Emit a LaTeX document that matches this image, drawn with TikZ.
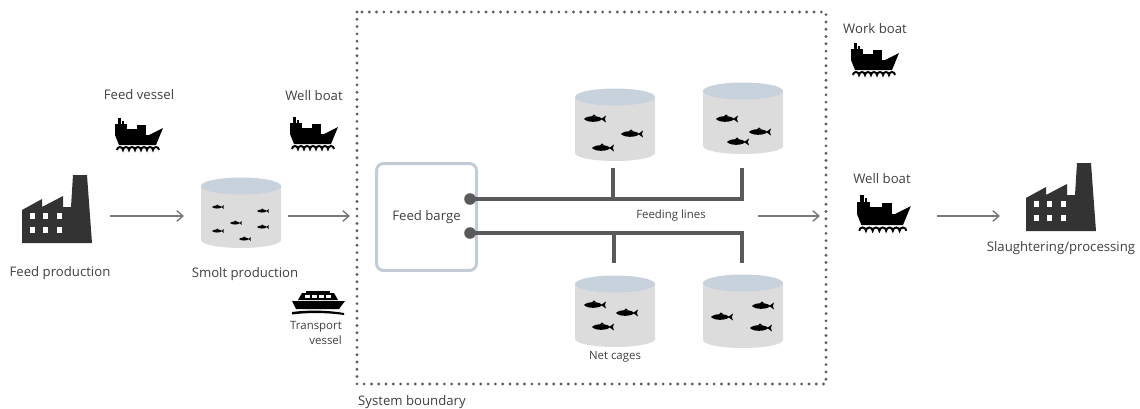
\documentclass[tikz,border=0pt]{standalone}
\usepackage{fontspec}
\setmainfont{Open Sans}
\usetikzlibrary{positioning,arrows.meta}
\definecolor{ink}{HTML}{333333}
\definecolor{txt}{HTML}{404040}
\definecolor{tankside}{HTML}{DCDCDC}
\definecolor{tanktop}{HTML}{C8D2DC}
\definecolor{pipe}{HTML}{5A5A5A}
\definecolor{bargeline}{HTML}{C3CCD6}
\definecolor{flowline}{HTML}{7A7A7A}
\definecolor{dots}{HTML}{5E5E5E}

\tikzset{
  fish/.pic={
    \fill[black] (-1,0) .. controls (-0.7,-0.34) and (0.3,-0.32) .. (0.62,-0.05)
      -- (1,-0.32) -- (0.9,0) -- (1,0.32) -- (0.62,0.05)
      .. controls (0.3,0.32) and (-0.7,0.34) .. (-1,0) -- cycle;
    \fill[black] (-0.3,-0.2) -- (-0.1,-0.42) -- (0.15,-0.22) -- cycle;
  },
  tank/.pic={
    \fill[tankside] (-40,0) -- (-40,#1) arc[start angle=180,end angle=0,x radius=40,y radius=8] -- (40,0) -- cycle;
    \fill[tanktop] (0,0) ellipse[x radius=40,y radius=8.5];
  },
  ship/.pic={
    \fill (3,0) rectangle (6,8);
    \fill (7,3) rectangle (9,8);
    \fill (0,6) rectangle (12,17);
    \fill (12,11) rectangle (23,17);
    \fill (22,7) rectangle (31,17);
    \fill (0,17) -- (34,17) -- (48,10) -- (41,27) -- (4,27) -- cycle;
    \draw[line width=1.1pt] (2,32) \foreach \i in {1,...,7}{arc[start angle=180,end angle=360,radius=3]};
  },
  ferry/.pic={
    \fill (14,0) rectangle (38,2);
    \fill (10,2) -- (42,2) -- (46,9) -- (6,9) -- cycle;
    \foreach \wx in {13,20,27,34}{\fill[white] (\wx,4) rectangle ++(5,3);}
    \fill (0,10) -- (53,10) -- (47,18) -- (4,18) -- cycle;
    \fill (0,21) .. controls (15,19) and (35,19) .. (52,22) -- (52,24) .. controls (35,21.5) and (15,21.5) .. (0,23.5) -- cycle;
  },
  factory/.pic={
    \fill[ink] (0,0) -- (0,-33) -- (20,-44) -- (20,-36) -- (41,-47) -- (41,-36) -- (49,-36)
      -- (51,-68) -- (65,-68) -- (70,0) -- cycle;
    \foreach \wx in {8,21,35}{
      \foreach \wy in {-30,-16}{\fill[white] (\wx,\wy) rectangle ++(5,6);}
    }
  }
}

\begin{document}
\begin{tikzpicture}[x=0.02cm, y=-0.02cm, font=\fontsize{7.5}{9}\selectfont, text=txt,
  small/.style={font=\fontsize{6.5}{8.5}\selectfont},
  flow/.style={draw=flowline, line width=0.8pt, -{Straight Barb[length=3.5pt,width=6pt]}},
  feedline/.style={draw=pipe, line width=1.9pt},
  pipedot/.style={circle, fill=pipe, inner sep=0pt, minimum size=6.6pt},
  barge/.style={draw=bargeline, line width=1.7pt, rounded corners=4pt, minimum width=2cm, minimum height=2.14cm},
  boundary/.style={draw=dots, line width=1.8pt, line cap=round, dash pattern=on 0pt off 4.15pt}]
\useasboundingbox (0,0) rectangle (1140,409);

% system boundary
\draw[boundary] (357,12) rectangle (826,384);
\node[anchor=west] (sysb) at (352,402) {System boundary};

% feed production
\pic at (22,243) {factory};
\node (feedprod) at (60,273) {Feed production};
\coordinate (a1s) at (110,216);
\coordinate (a1e) at (184,216);
\draw[flow] (a1s) -- (a1e);

% feed vessel
\node (feedves) at (139,95) {Feed vessel};
\pic at (115,118) {ship};

% smolt production
\pic at (241,186) {tank=54};
\foreach \fx/\fy in {-23/21, 22/25, -5/37, -23/45, 22/41, 4/53}{
  \pic[scale=6] at (241+\fx,186+\fy) {fish};
}
\node (smolt) at (245,274) {Smolt production};
\node (wellboatA) at (314,96) {Well boat};
\pic at (290,117) {ship};
\pic at (292,291) {ferry};
\node[small, align=right, anchor=east] (transp) at (348,333) {Transport\\vessel};
\coordinate (a2s) at (288,216);
\coordinate (a2e) at (350,216);
\draw[flow] (a2s) -- (a2e);

% feed barge and feeding lines
\node[barge] (fbarge) at (426.5,217) {Feed barge};
\node[pipedot] (dotA) at (470,199) {};
\node[pipedot] (dotB) at (470,233) {};
\coordinate (jA1) at (613,199);
\coordinate (jA2) at (742,199);
\coordinate (tA1) at (613,168);
\coordinate (tA2) at (742,168);
\coordinate (jB1) at (614,233);
\coordinate (jB2) at (742,233);
\coordinate (tB1) at (614,263);
\coordinate (tB2) at (742,263);
\draw[feedline] (dotA.center) -- (jA2) -- (tA2);
\draw[feedline] (jA1) -- (tA1);
\draw[feedline] (dotB.center) -- (jB2) -- (tB2);
\draw[feedline] (jB1) -- (tB1);
\node[small] (feedlines) at (671,216) {Feeding lines};

% net cages
\pic at (615,97) {tank=56};
\pic at (743,91) {tank=55};
\pic at (615,284) {tank=55};
\pic at (743,283) {tank=57};
\foreach \cx/\cy/\fx/\fy in {615/97/-20/22, 615/97/17/37, 615/97/-12/51,
                             743/91/-16/28, 743/91/17/41, 743/91/-5/51,
                             615/284/-20/21, 615/284/12/29, 615/284/-12/43,
                             743/284/-21/33, 743/284/20/22, 743/284/18/44}{
  \pic[scale=11] at (\cx+\fx,\cy+\fy) {fish};
}
\node[small] (netcages) at (615,357) {Net cages};
\coordinate (a3s) at (758,216);
\coordinate (a3e) at (820,216);
\draw[flow] (a3s) -- (a3e);

% boats outside the boundary
\node (workboat) at (875,29) {Work boat};
\pic at (851,43) {ship};
\node (wellboatB) at (882,179) {Well boat};
\pic[scale=1.12] at (857,195) {ship};
\coordinate (a4s) at (937,216);
\coordinate (a4e) at (1000,216);
\draw[flow] (a4s) -- (a4e);

% slaughtering
\pic at (1026,231) {factory};
\node (slaughter) at (1061,248) {Slaughtering/processing};
\end{tikzpicture}
\end{document}
